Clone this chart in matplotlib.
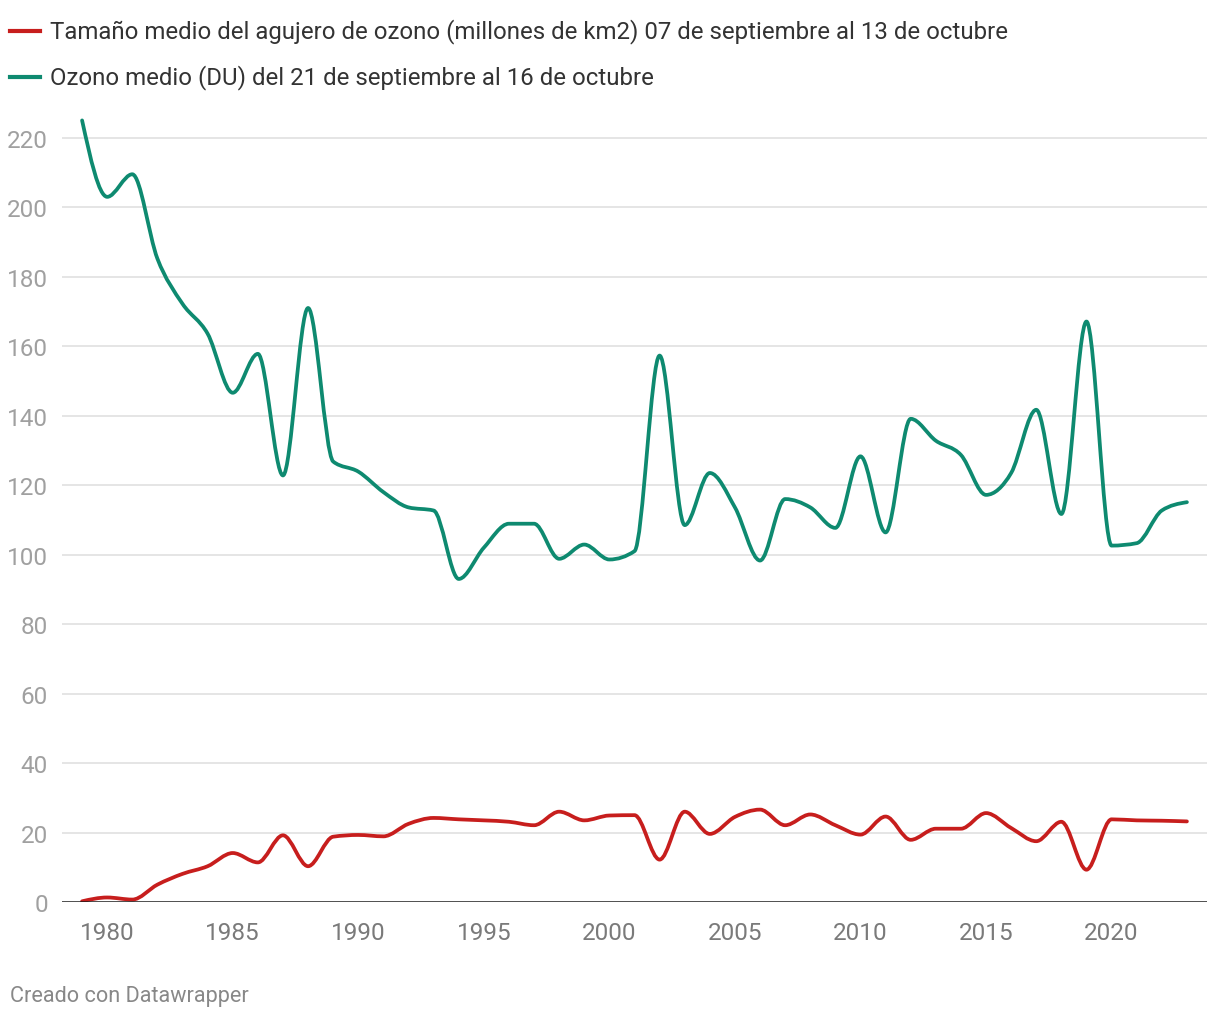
import numpy as np
import matplotlib
matplotlib.use('Agg')
from matplotlib import pyplot as plt
from matplotlib.path import Path
from matplotlib.patches import PathPatch

years = list(range(1979, 2024))

# Tamaño medio del agujero de ozono (millones de km2)
hole_size = [0.2, 1.3, 0.7, 5.0, 8.1, 10.3, 14.1, 11.4, 19.2, 10.3,
             18.8, 19.3, 18.9, 22.5, 24.2, 23.8, 23.5, 23.1, 22.1, 26.0,
             23.5, 24.9, 25.0, 12.2, 26.0, 19.6, 24.5, 26.6, 22.1, 25.2,
             22.1, 19.4, 24.6, 17.9, 21.1, 21.1, 25.6, 21.3, 17.5, 23.1,
             9.3, 23.8, 23.5, 23.4, 23.2]

# Ozono medio (DU)
ozone_mean = [225.0, 203.0, 209.5, 185.2, 172.2, 163.6, 146.6, 157.8, 122.8, 171.0,
              126.8, 123.9, 118.0, 113.6, 112.7, 93.0, 102.0, 108.9, 108.9, 98.8,
              102.9, 98.6, 101.0, 157.3, 108.5, 123.5, 113.6, 98.3, 116.0, 113.6,
              107.7, 128.3, 106.4, 139.1, 132.8, 128.7, 117.2, 123.5, 141.7, 111.7,
              167.1, 102.6, 103.3, 112.7, 115.1]

labels = ['Tamaño medio del agujero de ozono (millones de km2) 07 de septiembre al 13 de octubre',
          'Ozono medio (DU) del 21 de septiembre al 16 de octubre']
colors = ['#c71e1d', '#0e8a70']
y_ticks = list(range(0, 221, 20))
x_ticks = [1980, 1985, 1990, 1995, 2000, 2005, 2010, 2015, 2020]


def monotone_path(x, y):
    # d3.curveMonotoneX as cubic bezier segments
    x = np.asarray(x, float)
    y = np.asarray(y, float)
    n = len(x)
    h = np.diff(x)
    s = np.diff(y) / h
    t = np.zeros(n)
    for i in range(1, n - 1):
        s0, s1 = s[i - 1], s[i]
        p = (s0 * h[i] + s1 * h[i - 1]) / (h[i - 1] + h[i])
        t[i] = (np.sign(s0) + np.sign(s1)) * min(abs(s0), abs(s1), 0.5 * abs(p))
    t[0] = (3 * s[0] - t[1]) / 2
    t[-1] = (3 * s[-1] - t[-2]) / 2
    verts = [(x[0], y[0])]
    codes = [Path.MOVETO]
    for i in range(n - 1):
        dx = h[i] / 3
        verts += [(x[i] + dx, y[i] + dx * t[i]),
                  (x[i + 1] - dx, y[i + 1] - dx * t[i + 1]),
                  (x[i + 1], y[i + 1])]
        codes += [Path.CURVE4] * 3
    return Path(verts, codes)


plt.rcParams['font.family'] = ['Roboto', 'DejaVu Sans']

fig = plt.figure(figsize=(12.2, 10.2), dpi=100)
ax = fig.add_axes([62 / 1220, 1 - 903 / 1020, 1145 / 1220, 792 / 1020])
ax.set_xlim(1978.2, 2023.8)
ax.set_ylim(0, 228)

for yv in y_ticks[1:]:
    ax.axhline(yv, color='#e3e3e3', lw=1.3, zorder=1)
ax.axhline(0, color='#1a1a1a', lw=1.8, zorder=4)

for vals, c in zip([hole_size, ozone_mean], colors):
    ax.add_patch(PathPatch(monotone_path(years, vals), fill=False, edgecolor=c,
                           lw=2.7, capstyle='round', joinstyle='round', zorder=3))

for sp in ax.spines.values():
    sp.set_visible(False)
ax.set_yticks(y_ticks)
ax.set_xticks(x_ticks)
ax.tick_params(axis='both', length=0)
ax.tick_params(axis='y', labelsize=17.5, labelcolor='#a0a0a0', pad=10)
ax.tick_params(axis='x', labelsize=17.5, labelcolor='#7a7a7a', pad=14)

# legend
for i, (lab, c) in enumerate(zip(labels, colors)):
    yy = 1 - (32 + 46 * i) / 1020
    fig.add_artist(plt.Line2D([10 / 1220, 40 / 1220], [yy, yy], color=c, lw=3,
                              transform=fig.transFigure))
    fig.text(50 / 1220, yy, lab, fontsize=17.3, color='#333333', va='center', ha='left')

fig.text(10 / 1220, 1 - 997 / 1020, 'Creado con Datawrapper', fontsize=15.6,
         color='#888888', va='center', ha='left')

fig.savefig('out.png', dpi=100, facecolor='white')
